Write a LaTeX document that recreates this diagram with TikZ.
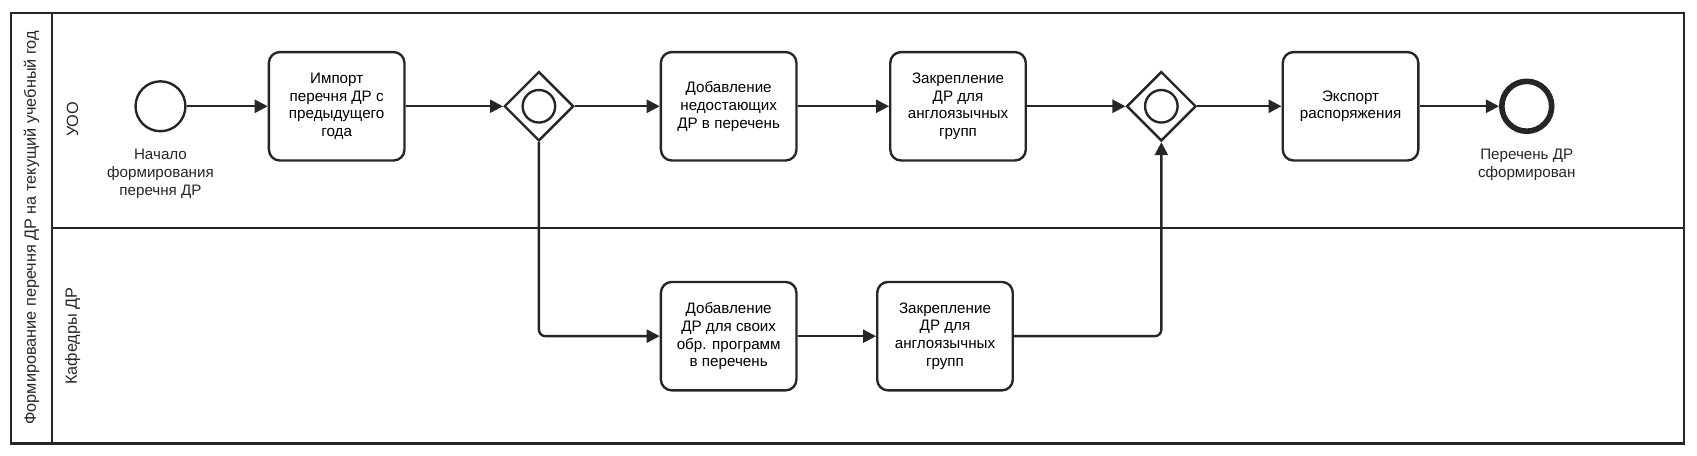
\documentclass[tikz,border=0pt]{standalone}
\usepackage{fontspec}
\setmainfont{Liberation Sans}
\usetikzlibrary{arrows.meta,shapes.geometric}
\begin{document}
\begin{tikzpicture}[x=0.5pt,y=-0.5pt,
  line width=1.1pt, draw=black!85,
  task/.style={draw=black!85,line width=1.1pt,rounded corners=5pt,minimum width=62.5pt,minimum height=50pt,align=center,font=\fontsize{7}{8.2}\selectfont,inner sep=1pt},
  gw/.style={draw=black!85,line width=1.1pt,diamond,minimum width=32pt,minimum height=32pt,inner sep=0pt},
  ev/.style={draw=black!85,line width=1.1pt,circle,minimum size=23pt,inner sep=0pt},
  lbl/.style={align=center,font=\fontsize{7}{8.2}\selectfont,text=black!85},
  flow/.style={draw=black!85,line width=1.1pt,-{Triangle[length=6pt,width=6pt]},rounded corners=3pt}]
\useasboundingbox (0,0) rectangle (1565,420);
\draw (10,12) rectangle (1553,409);
\draw (48,12) -- (48,409);
\draw (48,210) -- (1553,210);
\node[lbl,rotate=90,font=\fontsize{7.5}{9}\selectfont] (pool) at (29,210) {Формирование перечня ДР на текущий учебный год};
\node[lbl,rotate=90,font=\fontsize{7.5}{9}\selectfont] (l1) at (67,110) {УОО};
\node[lbl,rotate=90,font=\fontsize{7.5}{9}\selectfont] (l2) at (67,310) {Кафедры ДР};
\node[ev] (s) at (148,98) {};
\node[lbl,anchor=north] (sl) at (148,130) {Начало\\формирования\\перечня ДР};
\node[task] (t1) at (310.5,98) {Импорт\\перечня ДР с\\предыдущего\\года};
\node[gw] (g1) at (497,98) {};
\node[circle,draw=black!85,line width=1.1pt,minimum size=15pt,inner sep=0pt] (g1c) at (497,98) {};
\node[task] (t2) at (672,98) {Добавление\\недостающих\\ДР в перечень};
\node[task] (t3) at (883.5,98) {Закрепление\\ДР для\\англоязычных\\групп};
\node[gw] (g2) at (1071,98) {};
\node[circle,draw=black!85,line width=1.1pt,minimum size=15pt,inner sep=0pt] (g2c) at (1071,98) {};
\node[task] (t4) at (1245.5,98) {Экспорт\\распоряжения};
\node[ev,line width=2.6pt] (e) at (1408,98) {};
\node[lbl,anchor=north] (el) at (1408,130) {Перечень ДР\\сформирован};
\node[task] (t5) at (672,310) {Добавление\\ДР для своих\\обр. программ\\в перечень};
\node[task] (t6) at (871.5,310) {Закрепление\\ДР для\\англоязычных\\групп};
\draw[flow] (s) -- (t1);
\draw[flow] (t1) -- (g1);
\draw[flow] (g1) -- (t2);
\draw[flow] (t2) -- (t3);
\draw[flow] (t3) -- (g2);
\draw[flow] (g2) -- (t4);
\draw[flow] (t4) -- (e);
\draw[flow] (g1.south) |- (t5.west);
\draw[flow] (t5) -- (t6);
\draw[flow] (t6.east) -| (g2.south);
\end{tikzpicture}
\end{document}
